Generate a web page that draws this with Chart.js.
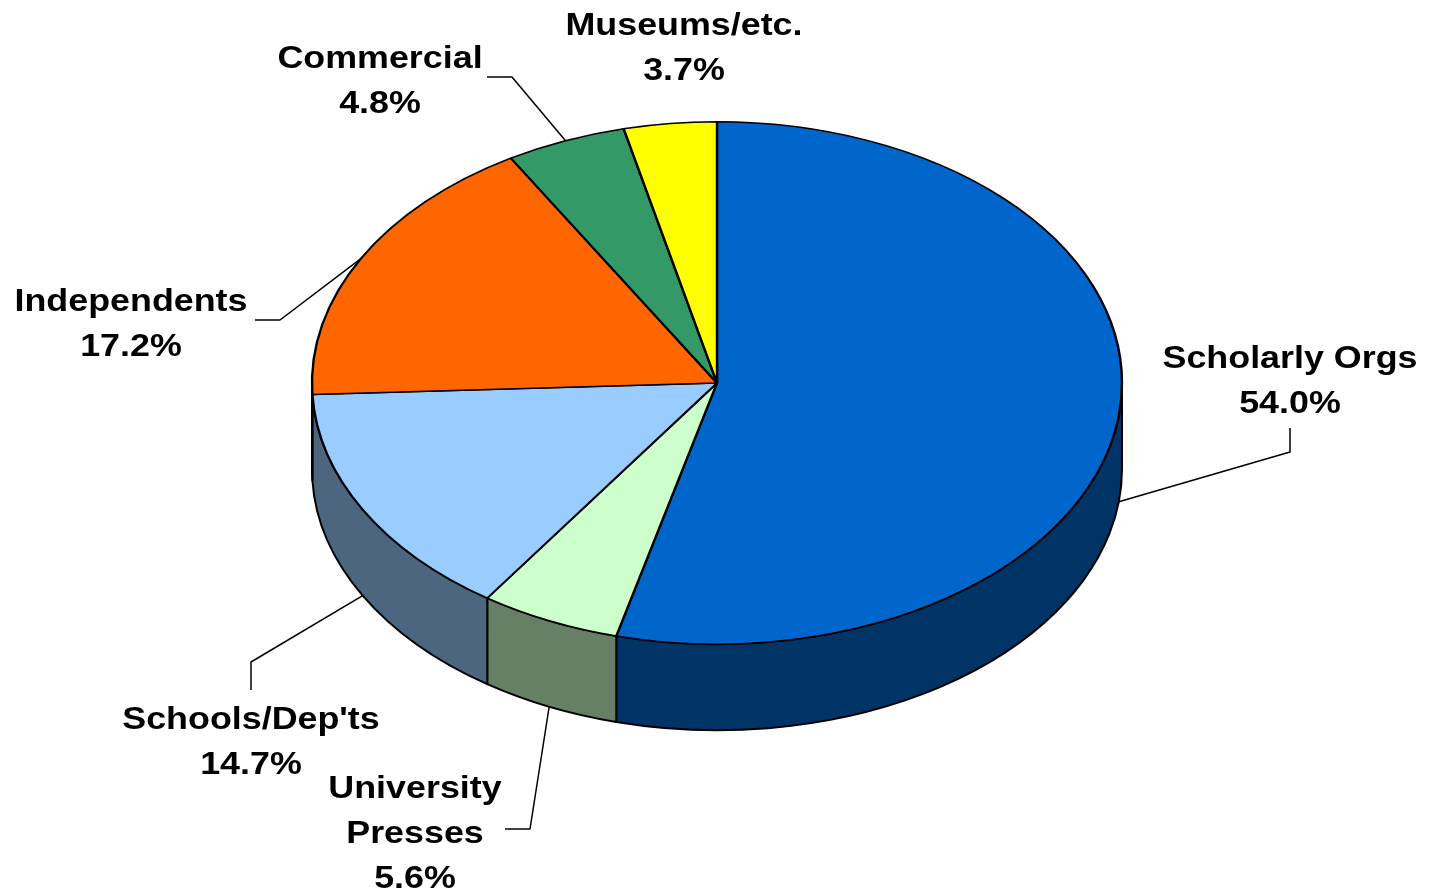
<!DOCTYPE html>
<html>
<head>
<meta charset="utf-8">
<script src="https://cdn.jsdelivr.net/npm/chart.js@4"></script>
<style>
  html, body { margin: 0; background: #fff; }
  #wrap { width: 1430px; height: 893px; }
</style>
</head>
<body>
<div id="wrap"><canvas id="pie"></canvas></div>
<script>
// Data
const categories = ['Scholarly Orgs', 'University Presses', "Schools/Dep'ts", 'Independents', 'Commercial', 'Museums/etc.'];
const shares = [54.0, 5.6, 14.7, 17.2, 4.8, 3.7];
const labelLines = [['Scholarly Orgs'], ['University', 'Presses'], ["Schools/Dep'ts"], ['Independents'], ['Commercial'], ['Museums/etc.']];

// Look
const topColors = ['#0066CC', '#CCFFCC', '#99CCFF', '#FF6600', '#339966', '#FFFF00'];
const sideColors = ['#003366', '#668066', '#4D6680', '#803300', '#1A4D33', '#808000'];
const TILT = 0.645;   // vertical squash of the disc
const DEPTH = 86;     // height of the side wall
const FONT = 'bold 32px "Liberation Sans", Arial, sans-serif';
const TEXT_STRETCH = 1.12;
const LINE_H = 45;

// label placement: centre x / cap-middle y of first line, plus leader elbow points
const labelPos = [[1290, 356], [415, 786], [251, 717], [131, 299], [380, 56], [684, 23]];
const leaderElbows = [
    [[1290, 428], [1290, 452]],
    [[505, 829], [530, 829]],
    [[251, 690], [251, 662]],
    [[255, 320], [280, 320]],
    [[487, 77], [512, 77]],
    [],
];

// draws the side walls, then squashes the pie face into an ellipse
const pie3d = {
    id: 'pie3d',
    beforeDatasetsDraw(chart) {
        const ctx = chart.ctx;
        const arcs = chart.getDatasetMeta(0).data;
        const cx = arcs[0].x, cy = arcs[0].y;
        arcs.forEach((arc, i) => {
            const a1 = Math.max(arc.startAngle, 0);
            const a2 = Math.min(arc.endAngle, Math.PI);
            if (a2 <= a1) return;
            const rx = arc.outerRadius, ry = arc.outerRadius * TILT;
            ctx.beginPath();
            ctx.ellipse(cx, cy, rx, ry, 0, a1, a2);
            ctx.ellipse(cx, cy + DEPTH, rx, ry, 0, a2, a1, true);
            ctx.closePath();
            ctx.fillStyle = sideColors[i];
            ctx.fill();
            ctx.lineWidth = 2;
            ctx.strokeStyle = '#000';
            ctx.lineJoin = 'round';
            ctx.stroke();
        });
        ctx.save();
        ctx.translate(cx, cy);
        ctx.scale(1, TILT);
        ctx.translate(-cx, -cy);
    },
    afterDatasetsDraw(chart) {
        chart.ctx.restore();
    },
};

function stretchedText(ctx, str, x, y) {
    ctx.save();
    ctx.translate(x, y);
    ctx.scale(TEXT_STRETCH, 1);
    ctx.fillText(str, 0, 0);
    ctx.restore();
}

const sliceLabels = {
    id: 'sliceLabels',
    afterDraw(chart) {
        const ctx = chart.ctx;
        const arcs = chart.getDatasetMeta(0).data;
        ctx.save();
        ctx.font = FONT;
        ctx.fillStyle = '#000';
        ctx.textAlign = 'center';
        ctx.textBaseline = 'alphabetic';
        arcs.forEach((arc, i) => {
            // leader line ends on the visible rim at the slice's mid angle
            const mid = (arc.startAngle + arc.endAngle) / 2;
            const s = Math.sin(mid);
            const ax = arc.x + arc.outerRadius * Math.cos(mid);
            const ay = arc.y + arc.outerRadius * TILT * s + (s > 0 ? DEPTH : 0);
            const pts = leaderElbows[i];
            if (pts.length) {
                ctx.beginPath();
                ctx.moveTo(pts[0][0], pts[0][1]);
                pts.slice(1).forEach(p => ctx.lineTo(p[0], p[1]));
                ctx.lineTo(ax, ay);
                ctx.lineWidth = 1.5;
                ctx.strokeStyle = '#000';
                ctx.stroke();
            }
            const lines = labelLines[i].concat([shares[i].toFixed(1) + '%']);
            const [lx, ly] = labelPos[i];
            lines.forEach((t, k) => stretchedText(ctx, t, lx, ly + 11.5 + k * LINE_H));
        });
        ctx.restore();
    },
};

new Chart(document.getElementById('pie'), {
    type: 'pie',
    data: {
        labels: categories,
        datasets: [{
            data: shares,
            backgroundColor: topColors,
            borderColor: '#000',
            borderWidth: 2.4,
            clip: false,
        }],
    },
    options: {
        responsive: true,
        maintainAspectRatio: false,
        animation: false,
        radius: 405,
        layout: { padding: { left: 4, top: 0, right: 0, bottom: 127 } },
        plugins: {
            legend: { display: false },
            tooltip: { enabled: false },
        },
    },
    plugins: [pie3d, sliceLabels],
});
</script>
</body>
</html>
